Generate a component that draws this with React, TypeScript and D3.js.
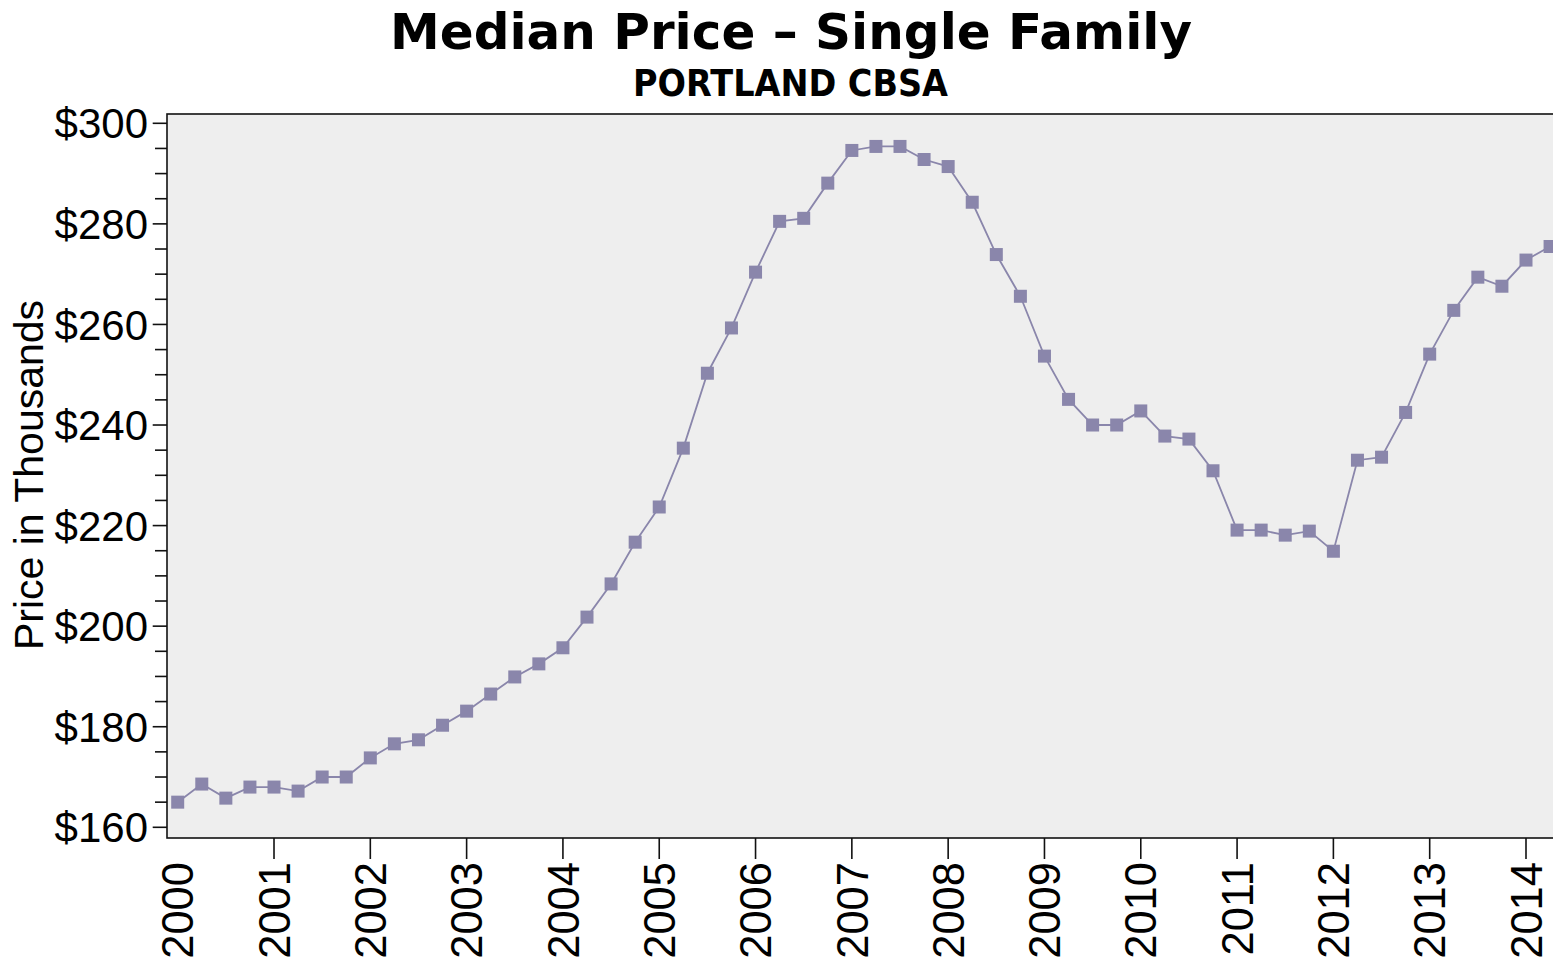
import React from "react";
import * as d3 from "d3";

const TITLE = "Median Price – Single Family";
const SUBTITLE = "PORTLAND CBSA";
const Y_TITLE = "Price in Thousands";

const quarters: number[] = [
  2000.0, 2000.25, 2000.5, 2000.75,
  2001.0, 2001.25, 2001.5, 2001.75,
  2002.0, 2002.25, 2002.5, 2002.75,
  2003.0, 2003.25, 2003.5, 2003.75,
  2004.0, 2004.25, 2004.5, 2004.75,
  2005.0, 2005.25, 2005.5, 2005.75,
  2006.0, 2006.25, 2006.5, 2006.75,
  2007.0, 2007.25, 2007.5, 2007.75,
  2008.0, 2008.25, 2008.5, 2008.75,
  2009.0, 2009.25, 2009.5, 2009.75,
  2010.0, 2010.25, 2010.5, 2010.75,
  2011.0, 2011.25, 2011.5, 2011.75,
  2012.0, 2012.25, 2012.5, 2012.75,
  2013.0, 2013.25, 2013.5, 2013.75,
  2014.0, 2014.25,
];

const prices: number[] = [
  165.0, 168.6, 165.8, 168.0,
  168.0, 167.2, 170.0, 170.0,
  173.8, 176.6, 177.4, 180.3,
  183.1, 186.5, 189.9, 192.5,
  195.7, 201.8, 208.4, 216.7,
  223.7, 235.4, 250.3, 259.3,
  270.4, 280.5, 281.1, 288.1,
  294.6, 295.4, 295.4, 292.8,
  291.4, 284.3, 273.9, 265.6,
  253.7, 245.1, 240.0, 240.0,
  242.8, 237.8, 237.2, 230.9,
  219.1, 219.1, 218.1, 218.9,
  214.9, 233.0, 233.6, 242.5,
  254.1, 262.8, 269.4, 267.6,
  272.8, 275.5,
];

const yMajorTicks: number[] = [160, 180, 200, 220, 240, 260, 280, 300];
const yMinorTicks: number[] = d3.range(160, 301, 5);
const xLabelYears: number[] = d3.range(2000, 2015);
const xTickYears: number[] = d3.range(2001, 2015);

const W = 1553;
const H = 965;
const PLOT_LEFT = 167;
const PLOT_TOP = 114;
const PLOT_BOTTOM = 838;
const COLOR = "#8a86ab";
const FONT = "'Liberation Sans', Arial, sans-serif";

export default function App() {
  const x = d3.scaleLinear().domain([2000, 2014]).range([177.7, 1526]);
  const y = d3.scaleLinear().domain([160, 300]).range([827.3, 123.3]);
  const data = quarters.map((q, i) => ({ q, v: prices[i] }));
  const line = d3
    .line<{ q: number; v: number }>()
    .x((d) => x(d.q))
    .y((d) => y(d.v));
  const ms = 13;

  return (
    <svg
      width={W}
      height={H}
      style={{ position: "absolute", left: 0, top: 0, background: "#fff" }}
    >
      <rect x={0} y={0} width={W} height={H} fill="#fff" />
      <text
        x={791}
        y={49}
        textAnchor="middle"
        fontFamily="'DejaVu Sans', Verdana, sans-serif"
        fontWeight="bold"
        fontSize={50}
        textLength={802}
        lengthAdjust="spacingAndGlyphs"
        fill="#000"
      >
        {TITLE}
      </text>
      <text
        x={790.5}
        y={96}
        textAnchor="middle"
        fontFamily="'DejaVu Sans', Verdana, sans-serif"
        fontWeight="bold"
        fontSize={37}
        textLength={315}
        lengthAdjust="spacingAndGlyphs"
        fill="#000"
      >
        {SUBTITLE}
      </text>

      <rect
        x={PLOT_LEFT}
        y={PLOT_TOP}
        width={W - PLOT_LEFT + 10}
        height={PLOT_BOTTOM - PLOT_TOP}
        fill="#eeeeee"
        stroke="#111"
        strokeWidth={1.6}
      />

      {yMinorTicks.map((t) => (
        <line
          key={"m" + t}
          x1={yMajorTicks.includes(t) ? 152.7 : 155}
          x2={PLOT_LEFT}
          y1={y(t)}
          y2={y(t)}
          stroke="#111"
          strokeWidth={1.6}
        />
      ))}
      {yMajorTicks.map((t) => (
        <text
          key={"yl" + t}
          x={148}
          y={y(t)}
          dy="0.36em"
          textAnchor="end"
          fontFamily={FONT}
          fontSize={42}
          fill="#000"
        >
          {"$" + t}
        </text>
      ))}

      {xTickYears.map((t) => (
        <line
          key={"xt" + t}
          x1={x(t)}
          x2={x(t)}
          y1={PLOT_BOTTOM}
          y2={859}
          stroke="#111"
          strokeWidth={1.6}
        />
      ))}
      {xLabelYears.map((t) => (
        <text
          key={"xl" + t}
          transform={`translate(${x(t)},862) rotate(-90)`}
          dy="0.36em"
          textAnchor="end"
          fontFamily={FONT}
          fontSize={43.5}
          fill="#000"
        >
          {t}
        </text>
      ))}

      <text
        transform={`translate(43,475) rotate(-90)`}
        textAnchor="middle"
        fontFamily={FONT}
        fontSize={41}
        fill="#000"
      >
        {Y_TITLE}
      </text>

      <path d={line(data) || ""} fill="none" stroke={COLOR} strokeWidth={1.8} />
      {data.map((d, i) => (
        <rect
          key={"p" + i}
          x={x(d.q) - ms / 2}
          y={y(d.v) - ms / 2}
          width={ms}
          height={ms}
          fill={COLOR}
        />
      ))}
    </svg>
  );
}
